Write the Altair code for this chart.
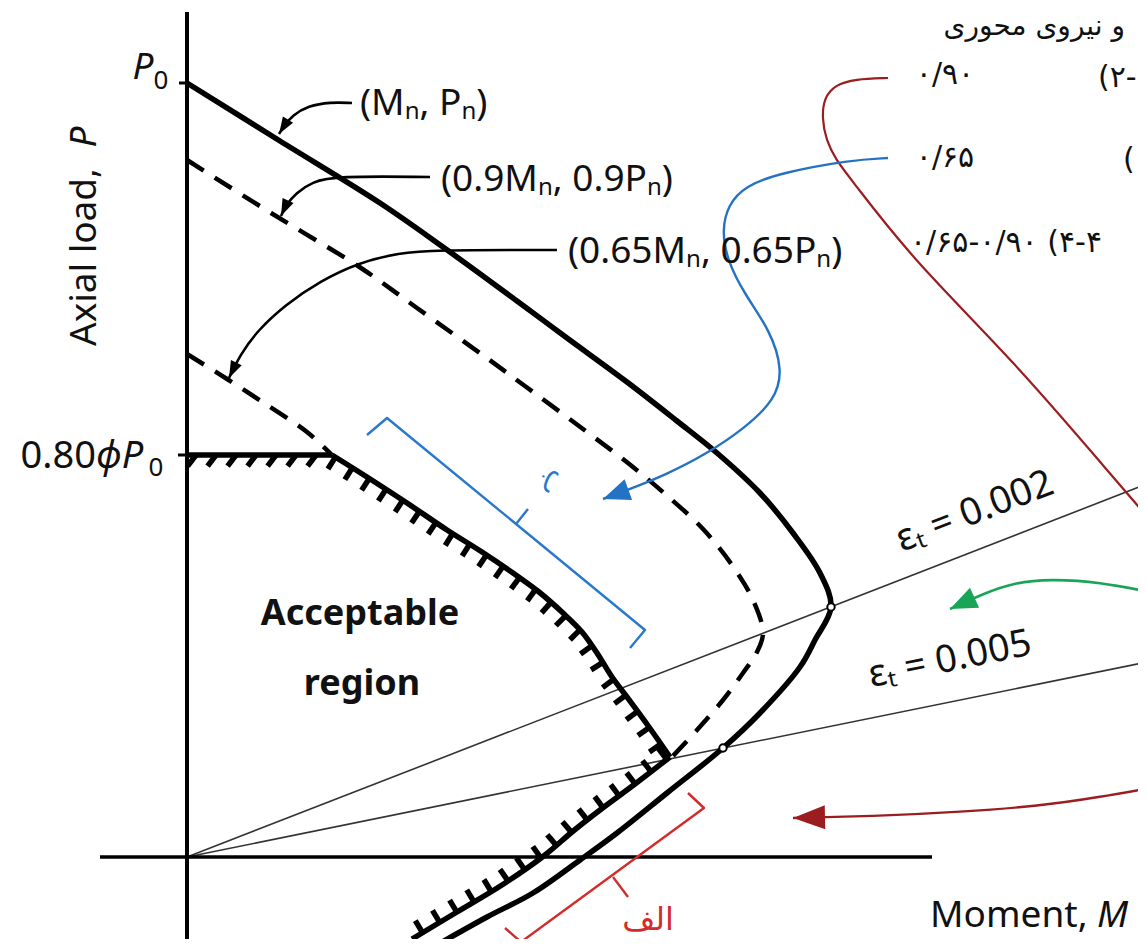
import math
import numpy as np
import pandas as pd
import altair as alt

# ---------------- data (diagram units: M to the right, P upward) ----------------
NOMINAL_M = [0, 93, 193, 256, 330, 380, 440, 490, 530, 573, 606, 633, 644, 628, 613, 573, 536, 480, 430, 393, 346, 300, 250]
NOMINAL_P = [774, 716, 654, 610, 556, 519, 475, 436, 404, 364, 324, 284, 250, 217, 190, 144, 109, 64, 24, -3, -36, -60, -88]

PHI090_M = [0, 84, 174, 230, 297, 342, 396, 441, 477, 516, 545, 566, 576, 570, 556, 536, 510, 485]
PHI090_P = [697, 644, 589, 549, 501, 468, 428, 394, 364, 328, 292, 257, 224, 205, 184, 157, 127, 100]

PHI065_M = [0, 40, 80, 120, 145]
PHI065_P = [503, 478, 452, 425, 402]

DESIGN_M = [0, 145, 180, 220, 260, 295, 326, 352, 376, 395, 410, 425, 440, 462, 483, 448, 413, 385, 358, 315, 270, 225]
DESIGN_P = [402, 402, 380, 354, 327, 305, 284, 265, 244, 225, 204, 180, 160, 130, 100, 73, 47, 25, 2, -28, -55, -82]

EPS002_M = [0, 965]
EPS002_P = [0, 375]
EPS005_M = [0, 965]
EPS005_P = [0, 196]

AXIS_V_M = [0, 0]
AXIS_V_P = [-90, 845]
AXIS_H_M = [-87, 745]
AXIS_H_P = [0, 0]

MARK_PTS_M = [644, 536]
MARK_PTS_P = [250, 109]

# annotation leaders (black)
LEAD_MN_M = [165, 143, 121, 106, 97, 92]
LEAD_MN_P = [754, 755, 751, 742, 731, 723]
LEAD_09_M = [243, 148, 125, 109, 99, 94]
LEAD_09_P = [680, 681, 675, 664, 652, 641]
LEAD_065_M = [370, 243, 213, 173, 133, 98, 71, 53, 42]
LEAD_065_P = [607, 607, 604, 595, 576, 552, 527, 502, 479]

# coloured callouts
RED_TOP_M = [701, 668, 648, 637, 635, 639, 649, 663, 726, 826, 926, 963]
RED_TOP_P = [779, 778, 772, 759, 739, 717, 697, 679, 597, 497, 380, 337]
RED_BOT_M = [963, 913, 853, 773, 693, 606]
RED_BOT_P = [69, 60, 51, 45, 41, 39]
BLUE_M = [701, 663, 593, 558, 541, 535, 540, 558, 583, 596, 588, 558, 518, 478, 446, 416]
BLUE_P = [699, 697, 684, 671, 652, 627, 597, 562, 527, 487, 457, 429, 402, 382, 369, 358]
GREEN_M = [963, 913, 863, 826, 798, 763]
GREEN_P = [265, 275, 278, 274, 264, 248]

BR_BLUE_M = [180, 200, 458, 443]
BR_BLUE_P = [422, 439, 227, 209]
BR_BLUE_TICK = [329, 333, 341, 348]
BR_RED_M = [501, 517, 334, 318]
BR_RED_P = [64, 49, -85, -71]
BR_RED_TICK = [426, -20, 441, -40]

# ---------------- scales ----------------
W, H = 1130, 931
XS = alt.Scale(domain=[-179, 951], nice=False, zero=False)
YS = alt.Scale(domain=[-82, 849], nice=False, zero=False)
FONT = "Noto Sans"
FA = "DejaVu Sans"


def X(f="M"):
    return alt.X(f"{f}:Q", scale=XS, axis=None)


def Y(f="P"):
    return alt.Y(f"{f}:Q", scale=YS, axis=None)


def path(m, p, color, width, dash=None, interp="linear"):
    df = pd.DataFrame({"M": m, "P": p, "i": list(range(len(m)))})
    kw = dict(color=color, strokeWidth=width, clip=True, strokeCap="butt",
              strokeJoin="round", interpolate=interp)
    if dash:
        kw["strokeDash"] = dash
    return alt.Chart(df).mark_line(**kw).encode(x=X(), y=Y(), order="i:Q")


def segs(rows, color, width):
    df = pd.DataFrame(rows, columns=["M", "P", "M2", "P2"])
    return alt.Chart(df).mark_rule(color=color, strokeWidth=width, clip=True,
                                   strokeCap="butt").encode(
        x=X(), y=Y(), x2="M2:Q", y2="P2:Q")


def head(m, p, color, length, half):
    dm = m[-1] - m[-2]
    dp = p[-1] - p[-2]
    ang = math.degrees(math.atan2(dm, dp)) % 360
    w = half / (length / 2.0)
    shape = f"M0,0L{-w:.3f},2L{w:.3f},2Z"
    df = pd.DataFrame({"M": [m[-1]], "P": [p[-1]]})
    return alt.Chart(df).mark_point(shape=shape, filled=True, color=color, opacity=1,
                                    size=length * length, angle=ang, clip=True).encode(
        x=X(), y=Y())


def label(text, m, p, size, color="#111111", align="center", baseline="middle",
          angle=0, style="normal", font=FONT, weight="normal"):
    df = pd.DataFrame({"M": [m], "P": [p], "t": [text]})
    return alt.Chart(df).mark_text(align=align, baseline=baseline, fontSize=size, font=font,
                                   fontStyle=style, fontWeight=weight, color=color,
                                   angle=angle, clip=True).encode(
        x=X(), y=Y(), text="t:N")


def hatch_ticks(m, p, spacing=20.0, length=14.0, start=9.0):
    pts = np.column_stack([m, p]).astype(float)
    seg = np.diff(pts, axis=0)
    seglen = np.hypot(seg[:, 0], seg[:, 1])
    cum = np.concatenate([[0.0], np.cumsum(seglen)])
    rows = []
    s = start
    while s < cum[-1]:
        k = int(np.searchsorted(cum, s, side="right") - 1)
        k = min(k, len(seg) - 1)
        t = seg[k] / seglen[k]
        base = pts[k] + t * (s - cum[k])
        n = np.array([t[1], -t[0]])
        d = (0.8 * n - 0.6 * t) if abs(t[1]) < 1e-6 else n
        end = base + length * d
        rows.append([base[0], base[1], end[0], end[1]])
        s += spacing
    return rows


# ---------------- layers ----------------
layers = []

# acceptable region fill
des = pd.DataFrame({"M": DESIGN_M, "P": DESIGN_P})
reg = des.iloc[1:]
reg = reg[reg["P"] >= 0].copy()
reg = pd.concat([reg, pd.DataFrame({"M": [356], "P": [0]})], ignore_index=True)
reg["M0"] = 0
layers.append(alt.Chart(reg).mark_area(orient="horizontal", color="#dedede", opacity=1,
                                       clip=True).encode(
    y=Y(), x=X(), x2="M0:Q", order="P:Q"))

# strain lines
layers.append(path(EPS002_M, EPS002_P, "#333333", 1.6))
layers.append(path(EPS005_M, EPS005_P, "#333333", 1.6))

# axes
layers.append(path(AXIS_V_M, AXIS_V_P, "#000000", 4))
layers.append(path(AXIS_H_M, AXIS_H_P, "#000000", 3.5))
layers.append(segs([[-8, 774, 0, 774], [-9, 402, 0, 402]], "#000000", 3))

# curves
CR = "catmull-rom"
layers.append(path(NOMINAL_M, NOMINAL_P, "#000000", 5.5, interp=CR))
layers.append(path(PHI090_M, PHI090_P, "#000000", 4.5, dash=[20, 13], interp=CR))
layers.append(path(PHI065_M, PHI065_P, "#000000", 4.5, dash=[20, 13], interp=CR))
# design curve: flat cap, compression branch, tension branch
k_turn = DESIGN_M.index(max(DESIGN_M))  # corner at the 0.005 strain line
layers.append(path(DESIGN_M[:2], DESIGN_P[:2], "#000000", 5.5))
layers.append(path(DESIGN_M[1:k_turn + 1], DESIGN_P[1:k_turn + 1], "#000000", 5.5, interp=CR))
layers.append(path(DESIGN_M[k_turn:], DESIGN_P[k_turn:], "#000000", 5.5, interp=CR))
layers.append(segs(hatch_ticks(DESIGN_M, DESIGN_P), "#000000", 5.5))

# markers at strain-limit intersections
layers.append(alt.Chart(pd.DataFrame({"M": MARK_PTS_M, "P": MARK_PTS_P})).mark_point(
    shape="circle", size=55, filled=True, fill="white", stroke="#000000", strokeWidth=2,
    opacity=1, clip=True).encode(x=X(), y=Y()))

# black leaders
for lm, lp in [(LEAD_MN_M, LEAD_MN_P), (LEAD_09_M, LEAD_09_P), (LEAD_065_M, LEAD_065_P)]:
    layers.append(path(lm, lp, "#000000", 2.6, interp="basis"))
    layers.append(head(lm, lp, "#000000", 17, 6))

# coloured callouts
layers.append(path(RED_TOP_M, RED_TOP_P, "#9b1d20", 2.2, interp="basis"))
layers.append(path(RED_BOT_M, RED_BOT_P, "#9b1d20", 2.4, interp="basis"))
layers.append(head(RED_BOT_M, RED_BOT_P, "#9b1d20", 32, 12))
layers.append(path(BLUE_M, BLUE_P, "#2472c4", 2.4, interp="basis"))
layers.append(head(BLUE_M, BLUE_P, "#2472c4", 27, 11))
layers.append(path(GREEN_M, GREEN_P, "#18a558", 2.6, interp="basis"))
layers.append(head(GREEN_M, GREEN_P, "#18a558", 27, 11))

# brackets
layers.append(path(BR_BLUE_M, BR_BLUE_P, "#2a78cc", 2.4))
layers.append(segs([BR_BLUE_TICK], "#2a78cc", 2.4))
layers.append(path(BR_RED_M, BR_RED_P, "#d22b2b", 2.4))
layers.append(segs([BR_RED_TICK], "#d22b2b", 2.4))

# text
layers += [
    label("P", -44, 789, 37, style="italic"),
    label("0", -26, 776, 26),
    label("0.80", -91, 400, 38, align="right"),
    label("ϕP", -91, 400, 38, align="left", style="italic"),
    label("0", -31, 389, 26),
    label("Axial load,", -102, 600, 37, angle=270),
    label("P", -102, 720, 37, angle=270, style="italic"),
    label("(Mₙ, Pₙ)", 173, 753, 37, align="left"),
    label("(0.9Mₙ, 0.9Pₙ)", 254, 677, 37, align="left"),
    label("(0.65Mₙ, 0.65Pₙ)", 381, 605, 37, align="left"),
    label("Acceptable", 173, 243, 36, weight="bold"),
    label("region", 175, 173, 36, weight="bold"),
    label("εₜ = 0.002", 788, 345, 38, angle=339),
    label("εₜ = 0.005", 763, 197, 38, angle=348.5),
    label("Moment,", 743, -59, 37, align="left"),
    label("M", 910, -59, 37, align="left", style="italic"),
    label("ب", 366, 374, 28, color="#2a78cc", angle=120, font=FA),
    label("الف", 461, -63, 32, color="#d22b2b", font=FA),
    label("و نیروی محوری", 938, 822, 28, align="right", baseline="alphabetic", font=FA),
    label("۰/۹۰", 758, 782, 30, font=FA),
    label("(۲-", 911, 779, 30, align="left", font=FA),
    label("۰/۶۵", 758, 699, 30, font=FA),
    label("(", 936, 697, 30, align="left", font=FA),
    label("۰/۶۵-۰/۹۰ (۴-۴", 723, 614, 30, align="left", font=FA),
]

chart = alt.layer(*layers).properties(
    width=W, height=H, padding=0, background="white",
    autosize=alt.AutoSizeParams(type="none"),
).configure_view(stroke=None)

chart.save("out.html", embed_options={"renderer": "svg", "actions": False})
